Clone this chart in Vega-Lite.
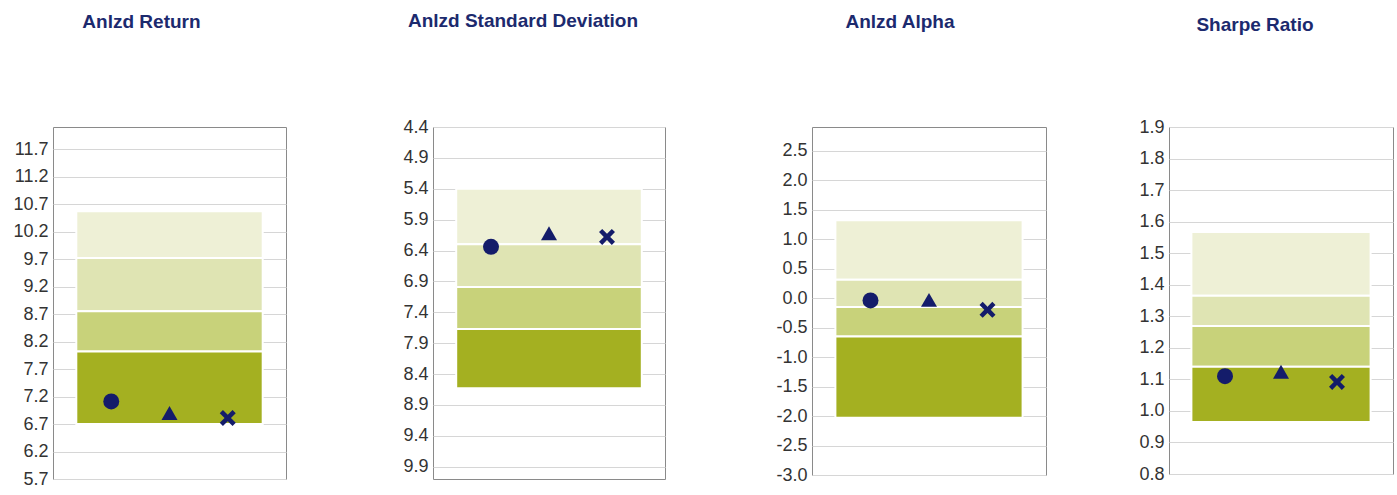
{
  "$schema": "https://vega.github.io/schema/vega-lite/v6.json",
  "padding": {"left": 12, "top": 11, "right": 0, "bottom": 0},
  "background": "white",
  "datasets": {
    "bands": [
      {"metric": "Return", "q": 1, "lo": 9.72, "hi": 10.57},
      {"metric": "Return", "q": 2, "lo": 8.75, "hi": 9.72},
      {"metric": "Return", "q": 3, "lo": 8.02, "hi": 8.75},
      {"metric": "Return", "q": 4, "lo": 6.70, "hi": 8.02},
      {"metric": "StdDev", "q": 1, "lo": 5.40, "hi": 6.30},
      {"metric": "StdDev", "q": 2, "lo": 6.30, "hi": 6.99},
      {"metric": "StdDev", "q": 3, "lo": 6.99, "hi": 7.67},
      {"metric": "StdDev", "q": 4, "lo": 7.67, "hi": 8.63},
      {"metric": "Alpha", "q": 1, "lo": 0.31, "hi": 1.32},
      {"metric": "Alpha", "q": 2, "lo": -0.15, "hi": 0.31},
      {"metric": "Alpha", "q": 3, "lo": -0.65, "hi": -0.15},
      {"metric": "Alpha", "q": 4, "lo": -2.03, "hi": -0.65},
      {"metric": "Sharpe", "q": 1, "lo": 1.365, "hi": 1.567},
      {"metric": "Sharpe", "q": 2, "lo": 1.269, "hi": 1.365},
      {"metric": "Sharpe", "q": 3, "lo": 1.14, "hi": 1.269},
      {"metric": "Sharpe", "q": 4, "lo": 0.965, "hi": 1.14}
    ],
    "points": [
      {"metric": "Return", "series": "Fund", "value": 7.11},
      {"metric": "Return", "series": "Index", "value": 6.90},
      {"metric": "Return", "series": "Category", "value": 6.81},
      {"metric": "StdDev", "series": "Fund", "value": 6.34},
      {"metric": "StdDev", "series": "Index", "value": 6.12},
      {"metric": "StdDev", "series": "Category", "value": 6.18},
      {"metric": "Alpha", "series": "Fund", "value": -0.04},
      {"metric": "Alpha", "series": "Index", "value": -0.03},
      {"metric": "Alpha", "series": "Category", "value": -0.20},
      {"metric": "Sharpe", "series": "Fund", "value": 1.11},
      {"metric": "Sharpe", "series": "Index", "value": 1.124},
      {"metric": "Sharpe", "series": "Category", "value": 1.092}
    ]
  },
  "config": {
    "view": {"stroke": "#8a8a8a", "strokeWidth": 1},
    "axis": {
      "domain": false, "ticks": false, "grid": true, "gridColor": "#d6d6d6", "gridWidth": 1,
      "labelFont": "Liberation Sans", "labelFontSize": 18, "labelColor": "#333333", "labelPadding": 5,
      "labelOverlap": false, "tickCount": 30, "labelExpr": "replace(format(datum.value, '.1f'), '\u2212', '-')",
      "title": null
    },
    "title": {
      "font": "Liberation Sans", "fontSize": 19, "fontWeight": "bold", "color": "#1c2a6e",
      "anchor": "middle", "frame": "bounds", "dx": -11
    }
  },
  "spacing": 109,
  "hconcat": [
    {
      "spacing": 115,
      "hconcat": [
        {
          "title": {"text": "Anlzd Return", "offset": 95, "dx": -8},
          "width": 233, "height": 352,
          "resolve": {"scale": {"x": "independent"}},
          "layer": [
            {
              "data": {"name": "bands"},
              "transform": [{"filter": "datum.metric === 'Return'"}],
              "mark": {"type": "rect", "stroke": "white", "strokeWidth": 2},
              "encoding": {
                "x": {"datum": 0.4, "type": "quantitative", "scale": {"domain": [0, 4]}, "axis": null},
                "x2": {"datum": 3.6},
                "y": {"field": "lo", "type": "quantitative", "scale": {"domain": [5.7, 12.1], "nice": false, "zero": false},
                      "axis": {"values": [5.7, 6.2, 6.7, 7.2, 7.7, 8.2, 8.7, 9.2, 9.7, 10.2, 10.7, 11.2, 11.7]}},
                "y2": {"field": "hi"},
                "color": {"field": "q", "type": "ordinal", "scale": {"domain": [1, 2, 3, 4], "range": ["#eef0d6", "#dfe4b3", "#c8d27a", "#a4b021"]}, "legend": null}
              }
            },
            {
              "data": {"name": "points"},
              "transform": [{"filter": "datum.metric === 'Return'"}],
              "mark": {"type": "point", "filled": true, "opacity": 1, "color": "#141c6a"},
              "encoding": {
                "x": {"field": "series", "type": "nominal", "scale": {"type": "point", "domain": ["Fund", "Index", "Category"], "padding": 1}, "axis": null},
                "y": {"field": "value", "type": "quantitative"},
                "shape": {"field": "series", "type": "nominal", "scale": {"domain": ["Fund", "Index", "Category"], "range": ["circle", "triangle-up", "M-0.6,-1L0,-0.4L0.6,-1L1,-0.6L0.4,0L1,0.6L0.6,1L0,0.4L-0.6,1L-1,0.6L-0.4,0L-1,-0.6Z"]}, "legend": null},
                "size": {"field": "series", "type": "nominal", "scale": {"domain": ["Fund", "Index", "Category"], "range": [256, 256, 180]}, "legend": null}
              }
            }
          ]
        },
        {
          "title": {"text": "Anlzd Standard Deviation", "offset": 87},
          "width": 232, "height": 352,
          "resolve": {"scale": {"x": "independent"}},
          "layer": [
            {
              "data": {"name": "bands"},
              "transform": [{"filter": "datum.metric === 'StdDev'"}],
              "mark": {"type": "rect", "stroke": "white", "strokeWidth": 2},
              "encoding": {
                "x": {"datum": 0.4, "type": "quantitative", "scale": {"domain": [0, 4]}, "axis": null},
                "x2": {"datum": 3.6},
                "y": {"field": "lo", "type": "quantitative", "scale": {"domain": [4.4, 10.1], "nice": false, "zero": false, "reverse": true},
                      "axis": {"values": [4.4, 4.9, 5.4, 5.9, 6.4, 6.9, 7.4, 7.9, 8.4, 8.9, 9.4, 9.9]}},
                "y2": {"field": "hi"},
                "color": {"field": "q", "type": "ordinal", "scale": {"domain": [1, 2, 3, 4], "range": ["#eef0d6", "#dfe4b3", "#c8d27a", "#a4b021"]}, "legend": null}
              }
            },
            {
              "data": {"name": "points"},
              "transform": [{"filter": "datum.metric === 'StdDev'"}],
              "mark": {"type": "point", "filled": true, "opacity": 1, "color": "#141c6a"},
              "encoding": {
                "x": {"field": "series", "type": "nominal", "scale": {"type": "point", "domain": ["Fund", "Index", "Category"], "padding": 1}, "axis": null},
                "y": {"field": "value", "type": "quantitative"},
                "shape": {"field": "series", "type": "nominal", "scale": {"domain": ["Fund", "Index", "Category"], "range": ["circle", "triangle-up", "M-0.6,-1L0,-0.4L0.6,-1L1,-0.6L0.4,0L1,0.6L0.6,1L0,0.4L-0.6,1L-1,0.6L-0.4,0L-1,-0.6Z"]}, "legend": null},
                "size": {"field": "series", "type": "nominal", "scale": {"domain": ["Fund", "Index", "Category"], "range": [256, 256, 180]}, "legend": null}
              }
            }
          ]
        }
      ]
    },
    {
      "spacing": 91,
      "hconcat": [
        {
          "title": {"text": "Anlzd Alpha", "offset": 95},
          "width": 234, "height": 348,
          "resolve": {"scale": {"x": "independent"}},
          "layer": [
            {
              "data": {"name": "bands"},
              "transform": [{"filter": "datum.metric === 'Alpha'"}],
              "mark": {"type": "rect", "stroke": "white", "strokeWidth": 2},
              "encoding": {
                "x": {"datum": 0.4, "type": "quantitative", "scale": {"domain": [0, 4]}, "axis": null},
                "x2": {"datum": 3.6},
                "y": {"field": "lo", "type": "quantitative", "scale": {"domain": [-3.0, 2.9], "nice": false, "zero": false},
                      "axis": {"values": [-3.0, -2.5, -2.0, -1.5, -1.0, -0.5, 0.0, 0.5, 1.0, 1.5, 2.0, 2.5]}},
                "y2": {"field": "hi"},
                "color": {"field": "q", "type": "ordinal", "scale": {"domain": [1, 2, 3, 4], "range": ["#eef0d6", "#dfe4b3", "#c8d27a", "#a4b021"]}, "legend": null}
              }
            },
            {
              "data": {"name": "points"},
              "transform": [{"filter": "datum.metric === 'Alpha'"}],
              "mark": {"type": "point", "filled": true, "opacity": 1, "color": "#141c6a"},
              "encoding": {
                "x": {"field": "series", "type": "nominal", "scale": {"type": "point", "domain": ["Fund", "Index", "Category"], "padding": 1}, "axis": null},
                "y": {"field": "value", "type": "quantitative"},
                "shape": {"field": "series", "type": "nominal", "scale": {"domain": ["Fund", "Index", "Category"], "range": ["circle", "triangle-up", "M-0.6,-1L0,-0.4L0.6,-1L1,-0.6L0.4,0L1,0.6L0.6,1L0,0.4L-0.6,1L-1,0.6L-0.4,0L-1,-0.6Z"]}, "legend": null},
                "size": {"field": "series", "type": "nominal", "scale": {"domain": ["Fund", "Index", "Category"], "range": [256, 256, 180]}, "legend": null}
              }
            }
          ]
        },
        {
          "title": {"text": "Sharpe Ratio", "offset": 83},
          "width": 224, "height": 347,
          "resolve": {"scale": {"x": "independent"}},
          "layer": [
            {
              "data": {"name": "bands"},
              "transform": [{"filter": "datum.metric === 'Sharpe'"}],
              "mark": {"type": "rect", "stroke": "white", "strokeWidth": 2},
              "encoding": {
                "x": {"datum": 0.4, "type": "quantitative", "scale": {"domain": [0, 4]}, "axis": null},
                "x2": {"datum": 3.6},
                "y": {"field": "lo", "type": "quantitative", "scale": {"domain": [0.8, 1.9], "nice": false, "zero": false},
                      "axis": {"values": [0.8, 0.9, 1.0, 1.1, 1.2, 1.3, 1.4, 1.5, 1.6, 1.7, 1.8, 1.9]}},
                "y2": {"field": "hi"},
                "color": {"field": "q", "type": "ordinal", "scale": {"domain": [1, 2, 3, 4], "range": ["#eef0d6", "#dfe4b3", "#c8d27a", "#a4b021"]}, "legend": null}
              }
            },
            {
              "data": {"name": "points"},
              "transform": [{"filter": "datum.metric === 'Sharpe'"}],
              "mark": {"type": "point", "filled": true, "opacity": 1, "color": "#141c6a"},
              "encoding": {
                "x": {"field": "series", "type": "nominal", "scale": {"type": "point", "domain": ["Fund", "Index", "Category"], "padding": 1}, "axis": null},
                "y": {"field": "value", "type": "quantitative"},
                "shape": {"field": "series", "type": "nominal", "scale": {"domain": ["Fund", "Index", "Category"], "range": ["circle", "triangle-up", "M-0.6,-1L0,-0.4L0.6,-1L1,-0.6L0.4,0L1,0.6L0.6,1L0,0.4L-0.6,1L-1,0.6L-0.4,0L-1,-0.6Z"]}, "legend": null},
                "size": {"field": "series", "type": "nominal", "scale": {"domain": ["Fund", "Index", "Category"], "range": [256, 256, 180]}, "legend": null}
              }
            }
          ]
        }
      ]
    }
  ]
}
